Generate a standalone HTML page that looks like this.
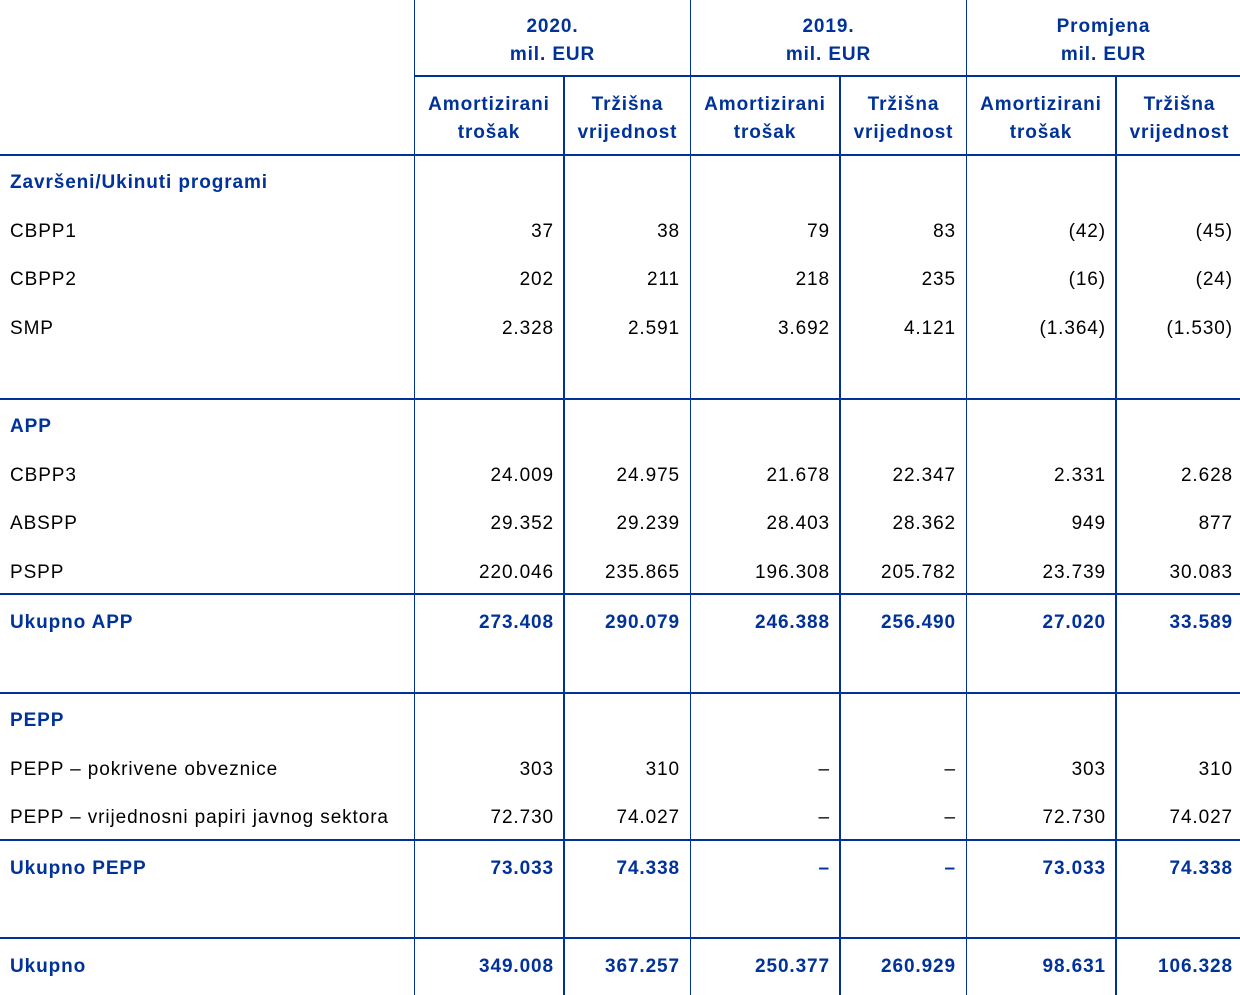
<!DOCTYPE html>
<html><head><meta charset="utf-8"><style>
body{margin:0;width:1240px;height:995px;background:#fff;position:relative;overflow:hidden;font-family:"Liberation Sans",Arial,sans-serif;font-size:19px;color:#000;letter-spacing:0.9px}
.h{position:absolute;background:#003299;height:2px}
.v{position:absolute;background:#003299;width:1px;top:0;height:995px}
.v2{width:2px;height:919px}
.t{position:absolute;height:24px;line-height:24px;white-space:nowrap}
.r{text-align:right}
.b{font-weight:bold;color:#003299}
.c{position:absolute;text-align:center;font-weight:bold;color:#003299;line-height:28px}
</style></head><body>
<div class="h" style="left:414px;width:826px;top:75px"></div>
<div class="h" style="left:0;width:1240px;top:154px"></div>
<div class="h" style="left:0;width:1240px;top:398px"></div>
<div class="h" style="left:0;width:1240px;top:593px"></div>
<div class="h" style="left:0;width:1240px;top:692px"></div>
<div class="h" style="left:0;width:1240px;top:839px"></div>
<div class="h" style="left:0;width:1240px;top:937px"></div>
<div class="v" style="left:414px"></div>
<div class="v v2" style="left:563px;top:76px"></div>
<div class="v" style="left:690px"></div>
<div class="v v2" style="left:839px;top:76px"></div>
<div class="v" style="left:966px"></div>
<div class="v v2" style="left:1115px;top:76px"></div>

<div class="c" style="left:415px;width:275px;top:13px">2020.<br>mil. EUR</div>
<div class="c" style="left:691px;width:275px;top:13px">2019.<br>mil. EUR</div>
<div class="c" style="left:967px;width:273px;top:13px">Promjena<br>mil. EUR</div>
<div class="c" style="left:415px;width:148px;top:91px">Amortizirani<br>trošak</div>
<div class="c" style="left:565px;width:125px;top:91px">Tržišna<br>vrijednost</div>
<div class="c" style="left:691px;width:148px;top:91px">Amortizirani<br>trošak</div>
<div class="c" style="left:841px;width:125px;top:91px">Tržišna<br>vrijednost</div>
<div class="c" style="left:967px;width:148px;top:91px">Amortizirani<br>trošak</div>
<div class="c" style="left:1117px;width:125px;top:91px">Tržišna<br>vrijednost</div>

<div id="rows"></div>
<script>
var rows=[
[182,1,"Završeni/Ukinuti programi"],
[231,0,"CBPP1","37","38","79","83","(42)","(45)"],
[279,0,"CBPP2","202","211","218","235","(16)","(24)"],
[328,0,"SMP","2.328","2.591","3.692","4.121","(1.364)","(1.530)"],
[426,1,"APP"],
[475,0,"CBPP3","24.009","24.975","21.678","22.347","2.331","2.628"],
[523,0,"ABSPP","29.352","29.239","28.403","28.362","949","877"],
[572,0,"PSPP","220.046","235.865","196.308","205.782","23.739","30.083"],
[622,1,"Ukupno APP","273.408","290.079","246.388","256.490","27.020","33.589"],
[720,1,"PEPP"],
[769,0,"PEPP – pokrivene obveznice","303","310","–","–","303","310"],
[817,0,"PEPP – vrijednosni papiri javnog sektora","72.730","74.027","–","–","72.730","74.027"],
[868,1,"Ukupno PEPP","73.033","74.338","–","–","73.033","74.338"],
[966,1,"Ukupno","349.008","367.257","250.377","260.929","98.631","106.328"]];
var ends=[554,680,830,956,1106,1233],h="";
rows.forEach(function(r){var y=r[0]-11,c=r[1]?" b":"";
h+='<div class="t'+c+'" style="left:10px;top:'+y+'px">'+r[2]+'</div>';
for(var i=3;i<r.length;i++)h+='<div class="t r'+c+'" style="left:'+(ends[i-3]-140)+'px;width:140px;top:'+y+'px">'+r[i]+'</div>';});
document.getElementById("rows").innerHTML=h;
</script>
</body></html>
